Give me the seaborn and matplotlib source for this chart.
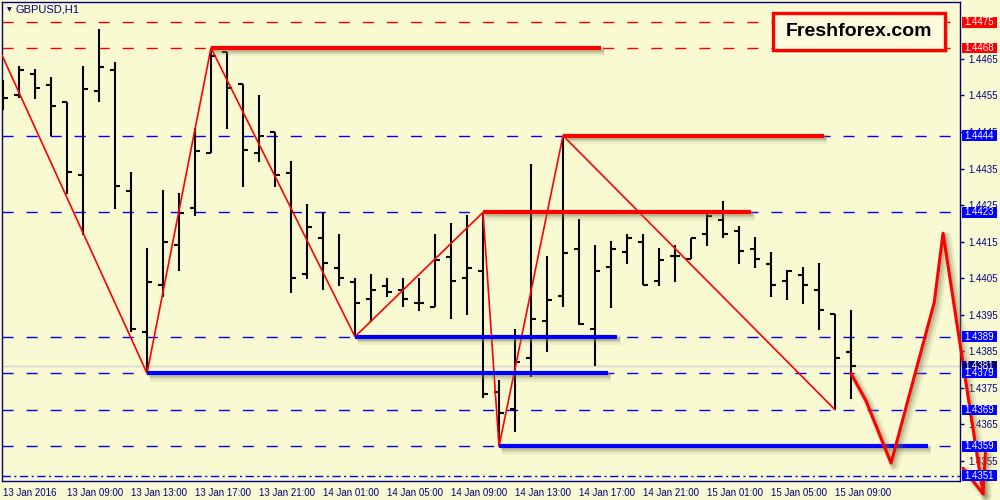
import matplotlib
matplotlib.use("Agg")
import matplotlib.pyplot as plt
import matplotlib.patheffects as pe
import matplotlib.transforms as mtransforms
from matplotlib import font_manager
from matplotlib.patches import Rectangle
import numpy as np
import seaborn as sns

# ---------------------------------------------------------
# Data: GBPUSD H1 bars, 13 Jan 05:00 .. 15 Jan 10:00
# ---------------------------------------------------------
opens = [1.44565, 1.44552, 1.44609, 1.44579, 1.44531, 1.44333, 1.44563, 1.44620, 1.44289, 1.43904,
         1.44031, 1.44141, 1.44243, 1.44393, 1.44670, 1.44580, 1.44393, 1.44451, 1.44339, 1.44062,
         1.44160, 1.44079, 1.44040, 1.43994, 1.44029, 1.44018, 1.43983, 1.43972, 1.44109, 1.44051,
         1.44070, 1.43739, 1.43693, 1.43832, 1.43934, 1.44002, 1.44130, 1.43911, 1.44081, 1.44122,
         1.44150, 1.44042, 1.44111, 1.44102, 1.44171, 1.44209, 1.44180, 1.44131, 1.44090, 1.44043,
         1.44060, 1.44018, 1.43951, 1.43849]
highs = [1.44592, 1.44630, 1.44621, 1.44600, 1.44531, 1.44630, 1.44732, 1.44641, 1.44340, 1.44132,
         1.44290, 1.44282, 1.44460, 1.44680, 1.44670, 1.44580, 1.44550, 1.44451, 1.44371, 1.44253,
         1.44232, 1.44171, 1.44050, 1.44061, 1.44050, 1.44051, 1.44051, 1.44171, 1.44201, 1.44223,
         1.44230, 1.43771, 1.43910, 1.44362, 1.44110, 1.44440, 1.44211, 1.44141, 1.44152, 1.44170,
         1.44170, 1.44132, 1.44141, 1.44161, 1.44228, 1.44260, 1.44192, 1.44162, 1.44121, 1.44072,
         1.44080, 1.44091, 1.43951, 1.43962]
lows = [1.44510, 1.44542, 1.44540, 1.44439, 1.44280, 1.44169, 1.44531, 1.44240, 1.43902, 1.43790,
        1.43999, 1.44070, 1.44221, 1.44393, 1.44459, 1.44300, 1.44369, 1.44300, 1.44010, 1.44048,
        1.44018, 1.44029, 1.43890, 1.43931, 1.43999, 1.43970, 1.43961, 1.43972, 1.43939, 1.43950,
        1.43721, 1.43590, 1.43630, 1.43780, 1.43849, 1.43970, 1.43923, 1.43811, 1.43969, 1.44090,
        1.44031, 1.44029, 1.44040, 1.44102, 1.44139, 1.44161, 1.44090, 1.44079, 1.43999, 1.43991,
        1.43980, 1.43909, 1.43690, 1.43720]
closes = [1.44544, 1.44620, 1.44570, 1.44521, 1.44341, 1.44568, 1.44629, 1.44303, 1.43912, 1.44040,
          1.44150, 1.44229, 1.44398, 1.44658, 1.44570, 1.44401, 1.44440, 1.44333, 1.44051, 1.44190,
          1.44091, 1.44051, 1.43982, 1.44018, 1.44012, 1.43994, 1.43983, 1.44101, 1.44043, 1.44079,
          1.43733, 1.43682, 1.43820, 1.43938, 1.43991, 1.44120, 1.43924, 1.44070, 1.44130, 1.44161,
          1.44031, 1.44101, 1.44111, 1.44161, 1.44221, 1.44171, 1.44123, 1.44103, 1.44032, 1.44070,
          1.44032, 1.43963, 1.43832, 1.43810]

time_labels = ["13 Jan 2016", "13 Jan 09:00", "13 Jan 13:00", "13 Jan 17:00", "13 Jan 21:00",
               "14 Jan 01:00", "14 Jan 05:00", "14 Jan 09:00", "14 Jan 13:00", "14 Jan 17:00",
               "14 Jan 21:00", "15 Jan 01:00", "15 Jan 05:00", "15 Jan 09:00"]
price_ticks = [1.4355, 1.4365, 1.4375, 1.4385, 1.4395, 1.4405, 1.4415,
               1.4425, 1.4435, 1.4445, 1.4455, 1.4465]

# horizontal levels
red_levels = [1.4475, 1.4468]
blue_levels = [1.4444, 1.4423, 1.4389, 1.4379, 1.4369, 1.4359]
bottom_level = 1.4351
bid_level = 1.4381

# zigzag (bar index, price)
zz_idx = [-1, 9, 13, 22, 30, 31, 35, 52]
zz_price = [1.4475, 1.4379, 1.4468, 1.4389, 1.4423, 1.4359, 1.4444, 1.4369]

# thick support / resistance segments: (level, start bar, end bar)
red_segments = [(1.4468, 13, 37.4), (1.4444, 35, 51.3), (1.4423, 30, 46.75)]
blue_segments = [(1.4389, 22, 38.4), (1.4379, 9, 37.8), (1.4359, 31, 57.8)]

# forecast path
fc_idx = [53, 53.94, 55.5, 58.2, 58.75, 61.25]
fc_price = [1.43789, 1.43714, 1.43544, 1.43984, 1.44173, 1.43460]
arrow_idx = [60.0, 61.25, 61.4]
arrow_price = [1.43530, 1.43460, 1.43574]

# ---------------------------------------------------------
# Style
# ---------------------------------------------------------
BG = "#fafad2"
NAVY = "#000080"
sns.set_theme(style="white")
names = {f.name for f in font_manager.fontManager.ttflist}
small_font = "Liberation Sans Narrow" if "Liberation Sans Narrow" in names else "Liberation Sans"
plt.rcParams["font.family"] = [small_font, "DejaVu Sans"]
plt.rcParams["lines.scale_dashes"] = False

fig = plt.figure(figsize=(10, 5), dpi=100, facecolor=BG)
ax = fig.add_axes([0.002, 0.038, 0.958, 0.958], facecolor=BG)

idx = np.arange(len(opens))

# dashed levels
for lv in red_levels:
    ax.axhline(lv, color="#ff0000", lw=1.0, ls=(0, (8, 9.3)), zorder=1)
for lv in blue_levels:
    ax.axhline(lv, color="#0000ff", lw=1.0, ls=(0, (8, 9.3)), zorder=1)
ax.axhline(bottom_level, color="#0000ff", lw=1.0, ls=(0, (6, 2.5, 1.5, 2.5)), zorder=1)
ax.axhline(bid_level, color="#d4d4d4", lw=1.0, zorder=1)

# OHLC bars
ax.vlines(idx, lows, highs, color="black", lw=1.5, zorder=3)
ax.hlines(opens, idx - 0.32, idx, color="black", lw=1.5, zorder=3)
ax.hlines(closes, idx, idx + 0.32, color="black", lw=1.5, zorder=3)

# zigzag
sns.lineplot(x=zz_idx, y=zz_price, ax=ax, color="#ff0000", lw=1.2,
             sort=False, estimator=None, zorder=4)

# thick segments with a soft shadow
shadow = [pe.SimpleLineShadow(offset=(2.5, -2.5), shadow_color="#8a8a60", alpha=0.12, linewidth=7),
          pe.SimpleLineShadow(offset=(2, -2), shadow_color="#8a8a60", alpha=0.22, linewidth=4.5),
          pe.SimpleLineShadow(offset=(1.5, -1.5), shadow_color="#6b6b40", alpha=0.25),
          pe.Normal()]
for lv, x0, x1 in red_segments:
    ax.plot([x0, x1], [lv, lv], color="#ff0000", lw=3.0, zorder=5,
            solid_capstyle="butt", path_effects=shadow)
for lv, x0, x1 in blue_segments:
    ax.plot([x0, x1], [lv, lv], color="#0000ff", lw=3.0, zorder=5,
            solid_capstyle="butt", path_effects=shadow)

# forecast line + arrow head
sns.lineplot(x=fc_idx, y=fc_price, ax=ax, color="#ff0000", lw=2.2,
             sort=False, estimator=None, zorder=6)
fc_line = ax.lines[-1]
fc_line.set_clip_on(False)
fc_line.set_path_effects(shadow)
ax.plot(arrow_idx, arrow_price, color="#ff0000", lw=2.2, zorder=6, clip_on=False,
        path_effects=shadow)

# axes limits, ticks
ax.set_xlim(-0.0625, 59.81)
ax.set_ylim(1.434951, 1.448055)
for s in ax.spines.values():
    s.set_color(NAVY)
    s.set_linewidth(1.0)

ax.yaxis.tick_right()
ax.set_yticks(price_ticks)
ax.set_yticklabels([f"{p:.4f}" for p in price_ticks])
ax.set_xticks(np.arange(0, len(opens), 4))
ax.set_xticklabels(time_labels, ha="left")
ax.tick_params(axis="both", length=3, width=1, color=NAVY, labelcolor=NAVY,
               labelsize=7, direction="out")
ax.tick_params(axis="x", pad=2)
ax.tick_params(axis="y", pad=3)
ax.set_xlabel("")
ax.set_ylabel("")

# price label boxes on the right
trans = mtransforms.blended_transform_factory(fig.transFigure, ax.transData)
box_h = 10.5 / 36552


def price_box(level, color):
    ax.add_patch(Rectangle((0.962, level - box_h / 2), 0.035, box_h, transform=trans,
                           facecolor=color, edgecolor="none", clip_on=False, zorder=10))
    ax.text(0.9795, level, f"{level:.4f}", transform=trans, color="white",
            fontsize=7, ha="center", va="center", clip_on=False, zorder=11)


price_box(bid_level, NAVY)
for lv in red_levels:
    price_box(lv, "#ff0000")
for lv in blue_levels + [bottom_level]:
    price_box(lv, "#0000ff")

# title
fig.text(0.009, 0.981, "\u25bc", fontsize=4.5, color=NAVY, va="center", ha="center",
         family="DejaVu Sans")
fig.text(0.016, 0.981, "GBPUSD,H1", fontsize=8, color=NAVY, va="center", ha="left")

# watermark box
fig.patches.append(Rectangle((0.776, 0.894), 0.172, 0.074, transform=fig.transFigure,
                             facecolor="#8a8a6a", edgecolor="none", alpha=0.3, zorder=20))
fig.patches.append(Rectangle((0.773, 0.900), 0.172, 0.074, transform=fig.transFigure,
                             facecolor="#fcfcdc", edgecolor="#ff0000", lw=2.4, zorder=21))
fig.text(0.859, 0.937, "Freshforex.com", fontsize=14, fontweight="bold", color="black",
         family=["Liberation Sans", "DejaVu Sans"], ha="center", va="center", zorder=22)

fig.savefig("out.png", dpi=100, facecolor=BG)
